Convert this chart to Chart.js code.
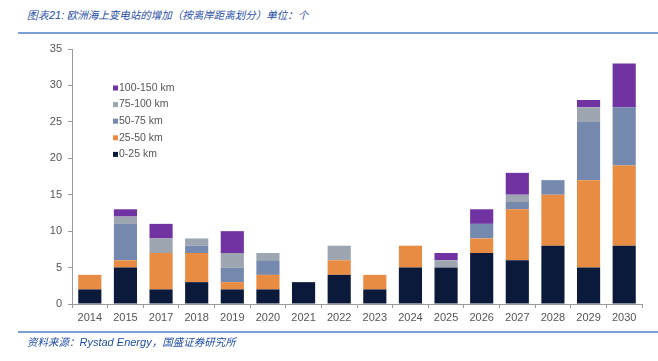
<!DOCTYPE html>
<html>
<head>
<meta charset="utf-8">
<script src="https://cdn.jsdelivr.net/npm/chart.js@4"></script>
<style>
  body { margin: 0; width: 658px; height: 361px; position: relative; background: #fff; overflow: hidden; }
  #wrap { position: absolute; left: 0; top: 0; width: 658px; height: 361px; }
  .cap { position: absolute; left: 27px; font-family: "Noto Sans CJK SC", sans-serif; font-style: italic; color: #1f4ea3; font-size: 10.5px; line-height: 14px; white-space: nowrap; }
  .cap .en { font-family: "Liberation Sans", Arial, sans-serif; font-size: 11px; }
  .rule { position: absolute; left: 18px; right: 0; height: 2px; background: #7c9fd6; }
</style>
</head>
<body>
<div class="cap" style="top:8px;"><span class="en">图表21:</span> 欧洲海上变电站的增加（按离岸距离划分）单位：个</div>
<div class="rule" style="top:32px;"></div>
<div id="wrap"><canvas id="chart" width="658" height="361"></canvas></div>
<div class="rule" style="top:331px;"></div>
<div class="cap" style="top:335px;">资料来源：<span class="en">Rystad Energy</span>，国盛证券研究所</div>
<script>
// years on the x axis (2016 is missing in the source)
const years = ['2014', '2015', '2017', '2018', '2019', '2020', '2021', '2022',
               '2023', '2024', '2025', '2026', '2027', '2028', '2029', '2030'];

// stations by distance to shore
const km0to25    = [2, 5, 2, 3, 2, 2, 3, 4, 2, 5, 5, 7, 6, 8, 5, 8];
const km25to50   = [2, 1, 5, 4, 1, 2, 0, 2, 2, 3, 0, 2, 7, 7, 12, 11];
const km50to75   = [0, 5, 0, 1, 2, 2, 0, 0, 0, 0, 0, 2, 1, 2, 8, 8];
const km75to100  = [0, 1, 2, 1, 2, 1, 0, 2, 0, 0, 1, 0, 1, 0, 2, 0];
const km100to150 = [0, 1, 2, 0, 3, 0, 0, 0, 0, 0, 1, 2, 3, 0, 1, 6];

const yTicks = [0, 5, 10, 15, 20, 25, 30, 35];

const axisColor = '#9a9a9a';
const tickFont = { family: '"Liberation Sans", Arial, sans-serif', size: 11 };

// legend drawn inside the plot, top entry first
const innerLegend = {
    id: 'innerLegend',
    afterDraw(chart) {
        const ctx = chart.ctx;
        const sets = chart.data.datasets.slice().reverse();
        ctx.save();
        ctx.font = '10.5px "Liberation Sans", Arial, sans-serif';
        ctx.textBaseline = 'middle';
        sets.forEach((ds, i) => {
            const y = 88 + i * 16.6;
            ctx.fillStyle = ds.backgroundColor;
            ctx.fillRect(113, y - 2.5, 5, 5);
            ctx.fillStyle = '#555';
            ctx.fillText(ds.label, 119, y);
        });
        ctx.restore();
    }
};

const ctx = document.getElementById('chart').getContext('2d');

new Chart(ctx, {
    type: 'bar',
    data: {
        labels: years,
        datasets: [
            { label: '0-25 km', data: km0to25, backgroundColor: '#0b1a3b' },
            { label: '25-50 km', data: km25to50, backgroundColor: '#e88b43' },
            { label: '50-75 km', data: km50to75, backgroundColor: '#7588ad' },
            { label: '75-100 km', data: km75to100, backgroundColor: '#9da5b1' },
            { label: '100-150 km', data: km100to150, backgroundColor: '#7233a2' }
        ]
    },
    options: {
        responsive: false,
        animation: false,
        layout: { padding: { top: 49, right: 16, left: 0, bottom: 0 } },
        datasets: { bar: { categoryPercentage: 1, barPercentage: 0.65, borderWidth: 0 } },
        plugins: {
            legend: { display: false },
            tooltip: { enabled: false }
        },
        scales: {
            x: {
                stacked: true,
                afterFit: scale => { scale.height = 57; },
                border: { color: axisColor, width: 1 },
                grid: { offset: true, drawOnChartArea: false, tickLength: 4, color: axisColor },
                ticks: { color: '#555', font: tickFont, padding: 3, maxRotation: 0, autoSkip: false }
            },
            y: {
                stacked: true,
                min: 0,
                max: 35,
                afterFit: scale => { scale.width = 72; },
                afterBuildTicks: scale => { scale.ticks = yTicks.map(v => ({ value: v })); },
                border: { color: axisColor, width: 1 },
                grid: { drawOnChartArea: false, tickLength: 4, color: axisColor },
                ticks: { color: '#555', font: tickFont, padding: 6 }
            }
        }
    },
    plugins: [innerLegend]
});
</script>
</body>
</html>
